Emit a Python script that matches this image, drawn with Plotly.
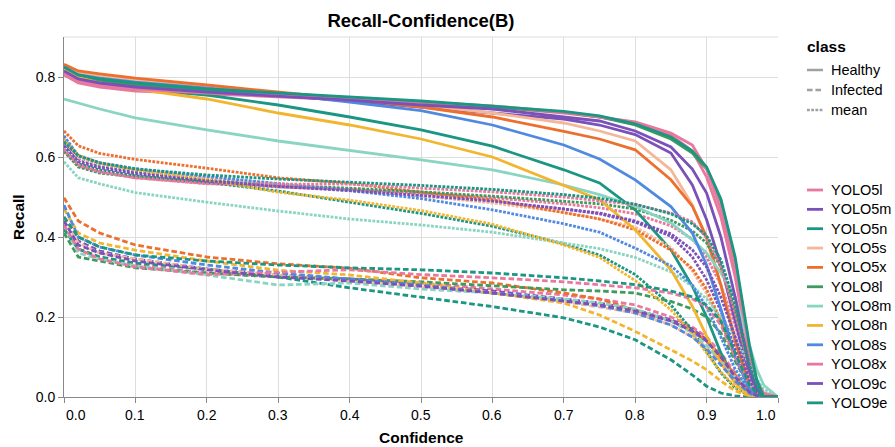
import plotly.graph_objects as go

CONF = [0.0, 0.02, 0.05, 0.1, 0.2, 0.3, 0.4, 0.5, 0.6, 0.7, 0.75, 0.8, 0.85, 0.88, 0.9, 0.92, 0.94, 0.96, 0.97, 0.98, 1.0]

MODELS = ["YOLO5l", "YOLO5m", "YOLO5n", "YOLO5s", "YOLO5x", "YOLO8l",
          "YOLO8m", "YOLO8n", "YOLO8s", "YOLO8x", "YOLO9c", "YOLO9e"]
COLORS = ["#e9789f", "#7b50b8", "#1b9682", "#f4b899", "#ec6f2d", "#3f9a5e",
          "#8ad5c2", "#f2b52f", "#4f89e0", "#e9789f", "#7b50b8", "#1b9682"]
CLASSES = ["Healthy", "Infected", "mean"]

HEALTHY = {
    "YOLO5l": [0.805, 0.785, 0.775, 0.765, 0.758, 0.75, 0.742, 0.735, 0.725, 0.71, 0.70, 0.685, 0.655, 0.615, 0.55, 0.45, 0.30, 0.10, 0.03, 0.0, 0.0],
    "YOLO5m": [0.82, 0.80, 0.79, 0.78, 0.765, 0.755, 0.74, 0.725, 0.71, 0.695, 0.68, 0.656, 0.61, 0.53, 0.443, 0.33, 0.19, 0.05, 0.015, 0.0, 0.0],
    "YOLO5n": [0.815, 0.795, 0.785, 0.77, 0.755, 0.73, 0.70, 0.668, 0.627, 0.568, 0.535, 0.468, 0.368, 0.277, 0.20, 0.11, 0.043, 0.005, 0.0, 0.0, 0.0],
    "YOLO5s": [0.825, 0.81, 0.803, 0.792, 0.777, 0.76, 0.745, 0.73, 0.71, 0.685, 0.665, 0.64, 0.568, 0.48, 0.393, 0.28, 0.15, 0.04, 0.01, 0.0, 0.0],
    "YOLO5x": [0.832, 0.815, 0.808, 0.797, 0.78, 0.762, 0.745, 0.725, 0.70, 0.664, 0.645, 0.618, 0.543, 0.477, 0.40, 0.28, 0.14, 0.03, 0.01, 0.0, 0.0],
    "YOLO8l": [0.82, 0.80, 0.79, 0.78, 0.768, 0.758, 0.748, 0.738, 0.725, 0.712, 0.70, 0.68, 0.645, 0.61, 0.57, 0.49, 0.34, 0.12, 0.04, 0.0, 0.0],
    "YOLO8m": [0.745, 0.735, 0.72, 0.698, 0.668, 0.64, 0.617, 0.593, 0.568, 0.53, 0.506, 0.477, 0.435, 0.393, 0.36, 0.31, 0.25, 0.13, 0.07, 0.03, 0.0],
    "YOLO8n": [0.82, 0.80, 0.785, 0.77, 0.745, 0.71, 0.68, 0.645, 0.60, 0.53, 0.493, 0.418, 0.318, 0.227, 0.152, 0.085, 0.035, 0.005, 0.0, 0.0, 0.0],
    "YOLO8s": [0.825, 0.805, 0.797, 0.787, 0.772, 0.757, 0.737, 0.716, 0.68, 0.63, 0.595, 0.543, 0.476, 0.41, 0.33, 0.22, 0.10, 0.02, 0.005, 0.0, 0.0],
    "YOLO8x": [0.81, 0.79, 0.78, 0.77, 0.76, 0.752, 0.745, 0.738, 0.728, 0.712, 0.70, 0.688, 0.66, 0.63, 0.57, 0.47, 0.32, 0.12, 0.04, 0.01, 0.0],
    "YOLO9c": [0.815, 0.795, 0.785, 0.775, 0.762, 0.752, 0.742, 0.73, 0.72, 0.70, 0.69, 0.665, 0.625, 0.57, 0.51, 0.40, 0.25, 0.07, 0.02, 0.0, 0.0],
    "YOLO9e": [0.825, 0.805, 0.795, 0.785, 0.77, 0.76, 0.75, 0.74, 0.727, 0.714, 0.703, 0.683, 0.65, 0.615, 0.575, 0.495, 0.35, 0.13, 0.045, 0.0, 0.0],
}

INFECTED = {
    "YOLO5l": [0.42, 0.37, 0.35, 0.33, 0.31, 0.30, 0.295, 0.285, 0.27, 0.255, 0.245, 0.23, 0.20, 0.175, 0.15, 0.11, 0.06, 0.015, 0.005, 0.0, 0.0],
    "YOLO5m": [0.45, 0.39, 0.365, 0.345, 0.32, 0.305, 0.295, 0.28, 0.265, 0.245, 0.235, 0.218, 0.193, 0.17, 0.143, 0.10, 0.05, 0.012, 0.004, 0.0, 0.0],
    "YOLO5n": [0.42, 0.37, 0.35, 0.335, 0.32, 0.30, 0.273, 0.25, 0.226, 0.198, 0.175, 0.143, 0.093, 0.055, 0.027, 0.01, 0.003, 0.0, 0.0, 0.0, 0.0],
    "YOLO5s": [0.45, 0.385, 0.36, 0.345, 0.32, 0.305, 0.29, 0.275, 0.26, 0.238, 0.225, 0.21, 0.18, 0.15, 0.125, 0.09, 0.045, 0.01, 0.0, 0.0, 0.0],
    "YOLO5x": [0.498, 0.44, 0.41, 0.38, 0.35, 0.333, 0.322, 0.298, 0.285, 0.26, 0.245, 0.218, 0.19, 0.165, 0.14, 0.10, 0.055, 0.015, 0.005, 0.0, 0.0],
    "YOLO8l": [0.41, 0.35, 0.34, 0.323, 0.31, 0.30, 0.295, 0.288, 0.278, 0.268, 0.265, 0.26, 0.239, 0.22, 0.20, 0.16, 0.09, 0.025, 0.01, 0.0, 0.0],
    "YOLO8m": [0.43, 0.36, 0.345, 0.328, 0.305, 0.28, 0.285, 0.27, 0.26, 0.245, 0.235, 0.22, 0.19, 0.16, 0.13, 0.09, 0.05, 0.03, 0.02, 0.01, 0.0],
    "YOLO8n": [0.47, 0.41, 0.385, 0.367, 0.34, 0.317, 0.305, 0.285, 0.26, 0.235, 0.205, 0.164, 0.118, 0.09, 0.068, 0.04, 0.015, 0.003, 0.0, 0.0, 0.0],
    "YOLO8s": [0.48, 0.40, 0.375, 0.355, 0.33, 0.31, 0.295, 0.28, 0.26, 0.24, 0.228, 0.21, 0.18, 0.15, 0.12, 0.08, 0.04, 0.01, 0.0, 0.0, 0.0],
    "YOLO8x": [0.43, 0.37, 0.345, 0.325, 0.306, 0.312, 0.318, 0.306, 0.298, 0.288, 0.28, 0.273, 0.26, 0.245, 0.226, 0.18, 0.10, 0.03, 0.01, 0.0, 0.0],
    "YOLO9c": [0.44, 0.38, 0.36, 0.34, 0.318, 0.30, 0.29, 0.277, 0.26, 0.24, 0.23, 0.215, 0.19, 0.165, 0.14, 0.10, 0.05, 0.012, 0.004, 0.0, 0.0],
    "YOLO9e": [0.45, 0.40, 0.375, 0.355, 0.34, 0.33, 0.323, 0.318, 0.31, 0.298, 0.29, 0.281, 0.265, 0.25, 0.23, 0.19, 0.11, 0.03, 0.01, 0.0, 0.0],
}

MEAN = {
    "YOLO5l": [0.613, 0.578, 0.563, 0.548, 0.534, 0.525, 0.519, 0.51, 0.498, 0.483, 0.473, 0.458, 0.428, 0.395, 0.35, 0.28, 0.18, 0.058, 0.018, 0.0, 0.0],
    "YOLO5m": [0.635, 0.595, 0.578, 0.563, 0.543, 0.53, 0.518, 0.503, 0.488, 0.47, 0.458, 0.437, 0.402, 0.35, 0.293, 0.215, 0.12, 0.031, 0.01, 0.0, 0.0],
    "YOLO5n": [0.618, 0.583, 0.568, 0.553, 0.537, 0.515, 0.487, 0.459, 0.427, 0.383, 0.355, 0.306, 0.23, 0.166, 0.114, 0.06, 0.023, 0.003, 0.0, 0.0, 0.0],
    "YOLO5s": [0.638, 0.598, 0.582, 0.569, 0.549, 0.533, 0.518, 0.503, 0.485, 0.462, 0.445, 0.425, 0.374, 0.315, 0.259, 0.185, 0.098, 0.025, 0.005, 0.0, 0.0],
    "YOLO5x": [0.665, 0.628, 0.609, 0.594, 0.572, 0.548, 0.534, 0.512, 0.493, 0.462, 0.445, 0.418, 0.367, 0.321, 0.27, 0.19, 0.098, 0.023, 0.008, 0.0, 0.0],
    "YOLO8l": [0.615, 0.575, 0.56, 0.55, 0.539, 0.529, 0.522, 0.513, 0.502, 0.49, 0.483, 0.47, 0.442, 0.415, 0.385, 0.325, 0.215, 0.073, 0.025, 0.0, 0.0],
    "YOLO8m": [0.588, 0.548, 0.533, 0.511, 0.487, 0.465, 0.445, 0.43, 0.412, 0.385, 0.371, 0.349, 0.313, 0.277, 0.245, 0.2, 0.15, 0.08, 0.045, 0.02, 0.0],
    "YOLO8n": [0.645, 0.605, 0.585, 0.568, 0.543, 0.512, 0.492, 0.466, 0.432, 0.38, 0.349, 0.291, 0.218, 0.158, 0.11, 0.063, 0.025, 0.004, 0.0, 0.0, 0.0],
    "YOLO8s": [0.653, 0.603, 0.586, 0.571, 0.551, 0.534, 0.516, 0.496, 0.468, 0.433, 0.412, 0.372, 0.328, 0.28, 0.225, 0.15, 0.07, 0.015, 0.003, 0.0, 0.0],
    "YOLO8x": [0.62, 0.58, 0.563, 0.548, 0.533, 0.532, 0.532, 0.522, 0.513, 0.5, 0.49, 0.481, 0.46, 0.438, 0.398, 0.325, 0.21, 0.075, 0.025, 0.005, 0.0],
    "YOLO9c": [0.628, 0.588, 0.573, 0.558, 0.54, 0.526, 0.516, 0.504, 0.49, 0.47, 0.46, 0.44, 0.408, 0.368, 0.325, 0.25, 0.15, 0.041, 0.012, 0.0, 0.0],
    "YOLO9e": [0.638, 0.603, 0.585, 0.57, 0.555, 0.545, 0.537, 0.529, 0.519, 0.506, 0.497, 0.482, 0.458, 0.433, 0.403, 0.343, 0.23, 0.08, 0.028, 0.0, 0.0],
}

X_TICKS = [0.0, 0.1, 0.2, 0.3, 0.4, 0.5, 0.6, 0.7, 0.8, 0.9, 1.0]
X_TICK_TEXT = ["0.0", "0.1", "0.2", "0.3", "0.4", "0.5", "0.6", "0.7", "0.8", "0.9", "1.0"]
Y_TICKS = [0.0, 0.2, 0.4, 0.6, 0.8]

DASHES = {"Healthy": "solid", "Infected": "5.6px,2.8px", "mean": "2.8px,1.4px"}
SERIES = {"Healthy": HEALTHY, "Infected": INFECTED, "mean": MEAN}

FONT = "Liberation Sans, Arial, Helvetica, sans-serif"

fig = go.Figure()
for model, color in zip(MODELS, COLORS):
    for cls in CLASSES:
        fig.add_trace(go.Scatter(
            x=CONF, y=SERIES[cls][model], mode="lines",
            name=f"{model} {cls}", showlegend=False,
            line=dict(color=color, width=2.8, dash=DASHES[cls]),
            hovertemplate=f"{model} ({cls})<br>conf=%{{x}}<br>recall=%{{y}}<extra></extra>",
        ))

# plot area geometry (px) for legend placement
L, R, T, B = 64, 117, 37, 50
W, H = 895, 447
PW, PH = W - L - R, H - T - B

def px_x(p):
    return (p - L) / PW

def px_y(p):
    return (H - B - p) / PH

shapes = []
annotations = []

# top frame line of the plot area
shapes.append(dict(type="line", xref="paper", yref="paper", x0=0, x1=1, y0=1, y1=1,
                   line=dict(color="#dddddd", width=1), layer="below"))

# class legend
annotations.append(dict(text="<b>class</b>", xref="paper", yref="paper",
                        x=px_x(805), y=px_y(46), xanchor="left", yanchor="middle",
                        showarrow=False, font=dict(family=FONT, size=15.5, color="#000")))
for i, cls in enumerate(CLASSES):
    yy = 70 + 20 * i
    shapes.append(dict(type="line", xref="paper", yref="paper",
                       x0=px_x(807), x1=px_x(823), y0=px_y(yy), y1=px_y(yy),
                       line=dict(color="#a0a0a0", width=2.5, dash=DASHES[cls] if cls != "Healthy" else "solid")))
    annotations.append(dict(text=cls, xref="paper", yref="paper",
                            x=px_x(829), y=px_y(yy), xanchor="left", yanchor="middle",
                            showarrow=False, font=dict(family=FONT, size=14.5, color="#000")))

# model colour legend
for i, (model, color) in enumerate(zip(MODELS, COLORS)):
    yy = 190 + 19.35 * i
    shapes.append(dict(type="line", xref="paper", yref="paper",
                       x0=px_x(807), x1=px_x(823), y0=px_y(yy), y1=px_y(yy),
                       line=dict(color=color, width=2.8)))
    annotations.append(dict(text=model, xref="paper", yref="paper",
                            x=px_x(829), y=px_y(yy), xanchor="left", yanchor="middle",
                            showarrow=False, font=dict(family=FONT, size=14.5, color="#000")))

# x tick labels (first and last flush with the plot edges)
for i, (tv, tt) in enumerate(zip(X_TICKS, X_TICK_TEXT)):
    anchor = "left" if i == 0 else ("right" if i == len(X_TICKS) - 1 else "center")
    annotations.append(dict(text=tt, xref="x", yref="paper", x=tv, y=px_y(415),
                            xanchor=anchor, yanchor="middle", showarrow=False,
                            font=dict(family=FONT, size=14, color="#000")))

# axis titles
annotations.append(dict(text="<b>Confidence</b>", xref="paper", yref="paper",
                        x=0.5, y=px_y(437), xanchor="center", yanchor="middle",
                        showarrow=False, font=dict(family=FONT, size=15.5, color="#000")))
annotations.append(dict(text="<b>Recall</b>", xref="paper", yref="paper",
                        x=px_x(18), y=0.5, xanchor="center", yanchor="middle",
                        textangle=-90, showarrow=False,
                        font=dict(family=FONT, size=15.5, color="#000")))

fig.update_layout(
    width=W, height=H,
    margin=dict(l=L, r=R, t=T, b=B),
    paper_bgcolor="white", plot_bgcolor="white",
    font=dict(family=FONT, size=14, color="#000"),
    title=dict(text="Recall-Confidence(B)", x=(L + PW / 2) / W, xanchor="center",
               y=1 - 21 / H, yanchor="middle",
               font=dict(family=FONT, size=18.5, color="#000", weight="bold")),
    xaxis=dict(range=[0, 1], tickvals=X_TICKS, showticklabels=False,
               showgrid=True, gridcolor="#dddddd", gridwidth=1, zeroline=False,
               showline=True, linecolor="#888888", linewidth=1,
               ticks="outside", ticklen=5, tickcolor="#888888"),
    yaxis=dict(range=[0, 0.9], tickvals=Y_TICKS, tickformat=".1f",
               showgrid=True, gridcolor="#dddddd", gridwidth=1, zeroline=False,
               showline=True, linecolor="#888888", linewidth=1,
               ticks="outside", ticklen=5, tickcolor="#888888",
               tickfont=dict(family=FONT, size=14, color="#000")),
    shapes=shapes,
    annotations=annotations,
)

fig.write_html("out.html")
